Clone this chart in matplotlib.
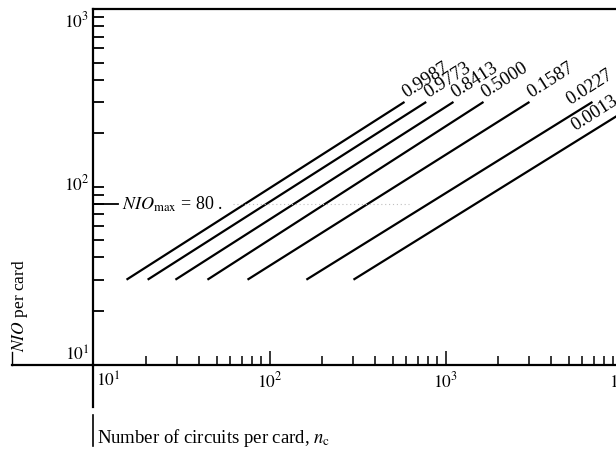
import numpy as np
import matplotlib
matplotlib.use('Agg')
import matplotlib.pyplot as plt
from matplotlib.lines import Line2D

plt.rcParams['font.family'] = ['Liberation Serif', 'DejaVu Serif']
plt.rcParams['mathtext.fontset'] = 'stix'

# curves: NIO goes 30 -> 300 along each line
probabilities = ['0.9987', '0.9773', '0.8413', '0.5000', '0.1587', '0.0227', '0.0013']
n_low = [15.4, 20.3, 29.2, 44.4, 75, 162, 300]
n_high = [585, 777, 1110, 1644, 3000, 6840, 12650]
nio_low = 30
nio_high = 300
nio_max = 80
x_decades = [10, 100, 1000, 10000]
y_decades = [10, 100, 1000]

W, H = 616, 451


def fx(px):
    return px / W


def fy(py):
    return 1 - py / H


fig = plt.figure(figsize=(W / 100, H / 100), dpi=100)
ax = fig.add_axes([fx(93.5), fy(364.5), 528 / W, 355.5 / H])
ax.set_xscale('log')
ax.set_yscale('log')
ax.set_xlim(10, 1e4)
ax.set_ylim(10, 1000)

for s in ['left', 'bottom', 'top']:
    ax.spines[s].set_linewidth(1.6)
ax.spines['right'].set_visible(False)

ax.tick_params(axis='y', which='both', direction='in', length=8, width=1.3, labelleft=False)
ax.tick_params(axis='x', which='major', direction='in', length=10, width=1.1, labelbottom=False)
ax.tick_params(axis='x', which='minor', direction='in', length=6.5, width=1.1, labelbottom=False)
ax.tick_params(axis='y', which='minor', labelleft=False)

# the lines
for lo, hi in zip(n_low, n_high):
    ax.plot([lo, hi], [nio_low, nio_high], color='black', lw=1.6, solid_capstyle='butt')

# rotation of the labels from the line slope on screen
p0 = ax.transData.transform((n_low[0], nio_low))
p1 = ax.transData.transform((n_high[0], nio_high))
angle = np.degrees(np.arctan2(p1[1] - p0[1], p1[0] - p0[0]))

# label anchors: at the line end, except the two near the right edge
label_x = [n_high[0], n_high[1], n_high[2], n_high[3], n_high[4], 5100, 5450]
for i, lab in enumerate(probabilities):
    lx = label_x[i]
    ly = 10 ** np.interp(np.log10(lx), np.log10([n_low[i], n_high[i]]),
                         np.log10([nio_low, nio_high]))
    off = (1.5, 3) if i < 5 else (0, 8)
    ax.annotate(lab, xy=(lx, ly), xytext=off, textcoords='offset points',
                rotation=angle, rotation_mode='anchor', ha='left', va='baseline',
                fontsize=13.5, annotation_clip=False)

# NIO_max marker
ax.plot([10, 13.8], [nio_max, nio_max], color='black', lw=1.3, clip_on=False)
ax.text(14.5, nio_max, r'$\mathit{NIO}_{\mathrm{max}}$ = %d .' % nio_max,
        ha='left', va='center', fontsize=13)
ax.plot([62, 620], [nio_max, nio_max], color='0.75', lw=0.8, ls=(0, (1, 2.5)))

# tick labels
for v in x_decades:
    e = int(round(np.log10(v)))
    ha, dx = ('left', 2) if v == 10 else ('center', 0)
    ax.annotate(r'$10^{%d}$' % e, xy=(v, 0), xycoords=('data', 'axes fraction'),
                xytext=(dx, -5), textcoords='offset points', ha=ha, va='top',
                fontsize=12.5, annotation_clip=False)
y_shift = {10: 6.8, 100: 2, 1000: -9}
for v in y_decades:
    e = int(round(np.log10(v)))
    ax.annotate(r'$10^{%d}$' % e, xy=(0, v), xycoords=('axes fraction', 'data'),
                xytext=(-3, y_shift[v]), textcoords='offset points', ha='right', va='center',
                fontsize=12.5, annotation_clip=False)

# axis titles with their little brackets
fig.text(fx(97), fy(443), r'Number of circuits per card, $n_{\mathrm{c}}$',
         ha='left', va='baseline', fontsize=13.5)
fig.text(fx(20), fy(352), r'$\mathit{NIO}$ per card', rotation=90,
         ha='center', va='bottom', fontsize=12.5)

fig.add_artist(Line2D([fx(12), fx(93.5)], [fy(364.5), fy(364.5)], color='black', lw=1.6))
fig.add_artist(Line2D([fx(93.5), fx(93.5)], [fy(364.5), fy(407)], color='black', lw=1.6))
fig.add_artist(Line2D([fx(93.5), fx(93.5)], [fy(415), fy(446)], color='black', lw=1.2))
fig.add_artist(Line2D([fx(12), fx(12)], [fy(352), fy(364.5)], color='black', lw=1.0))

fig.savefig('out.png', dpi=100)
